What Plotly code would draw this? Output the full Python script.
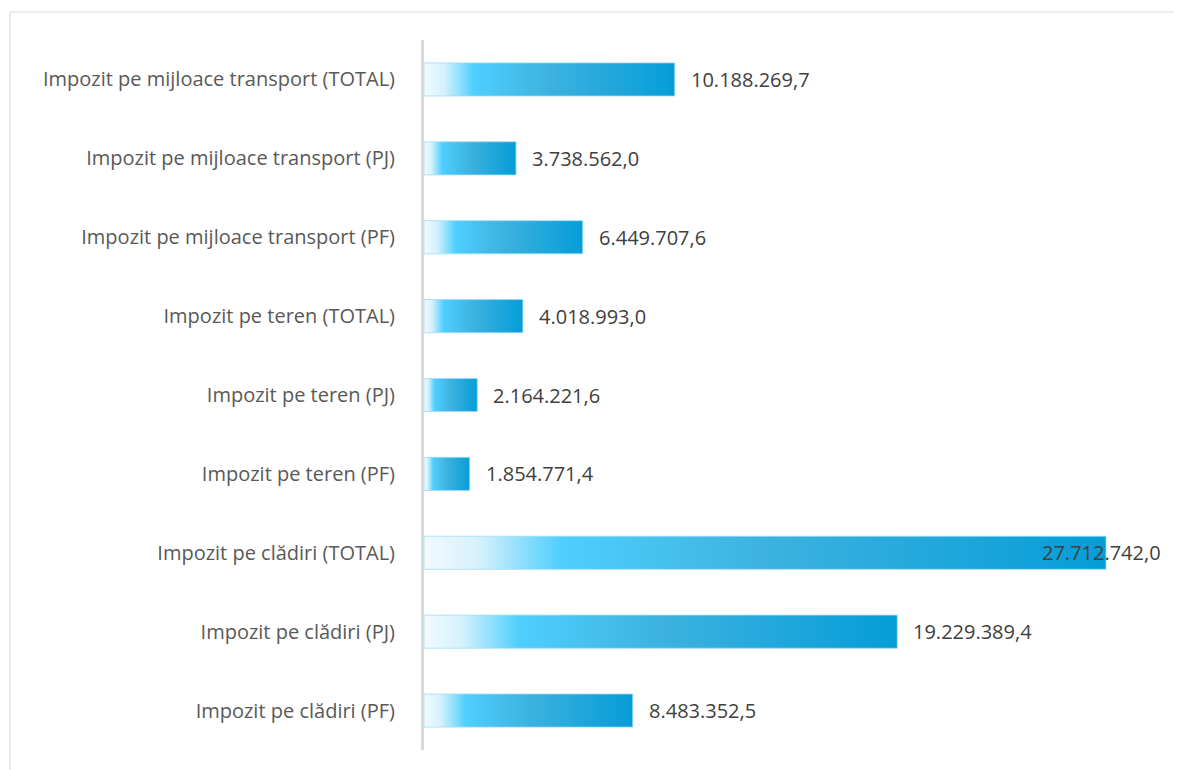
import plotly.graph_objects as go

categories = [
    "Impozit pe clădiri (PF)",
    "Impozit pe clădiri (PJ)",
    "Impozit pe clădiri (TOTAL)",
    "Impozit pe teren (PF)",
    "Impozit pe teren (PJ)",
    "Impozit pe teren (TOTAL)",
    "Impozit pe mijloace transport (PF)",
    "Impozit pe mijloace transport (PJ)",
    "Impozit pe mijloace transport (TOTAL)",
]
values = [
    8483352.5,
    19229389.4,
    27712742.0,
    1854771.4,
    2164221.6,
    4018993.0,
    6449707.6,
    3738562.0,
    10188269.7,
]

def fmt_ro(v):
    s = f"{v:,.1f}"
    return s.replace(",", "X").replace(".", ",").replace("X", ".")

labels = [fmt_ro(v) for v in values]

half_h = 0.21
grad = [[0.0, "#f2faff"], [0.08, "#d6f1fc"], [0.2, "#4fcffe"],
        [0.5, "#3db2e0"], [1.0, "#059dd7"]]

FONT = "'Open Sans', 'Noto Sans', sans-serif"

fig = go.Figure()
for i, v in enumerate(values):
    fig.add_trace(go.Scatter(
        x=[0, v, v, 0, 0],
        y=[i - half_h, i - half_h, i + half_h, i + half_h, i - half_h],
        mode="lines",
        line=dict(color="rgba(160,220,245,0.8)", width=1),
        fill="toself",
        fillgradient=dict(type="horizontal", colorscale=grad),
        hoverinfo="skip",
        showlegend=False,
    ))

vmax = max(values)
for i, (v, t) in enumerate(zip(values, labels)):
    overflow = v == vmax
    fig.add_annotation(
        x=v, y=i, text=t, showarrow=False,
        xanchor="left", yanchor="middle",
        xshift=-66 if overflow else 14,
        font=dict(family=FONT, size=20, color="#404040"),
    )

W, H = 1174, 762
L, R, T, B = 416, 32, 32, 20
pw = W - L - R
ph = H - T - B

fig.update_layout(
    width=W, height=H,
    margin=dict(l=L, r=R, t=T, b=B),
    paper_bgcolor="white",
    plot_bgcolor="white",
    showlegend=False,
    xaxis=dict(range=[0, 29.5e6], showgrid=False, zeroline=False,
               showticklabels=False, showline=False, fixedrange=True),
    yaxis=dict(range=[-0.5, 8.5], tickmode="array",
               tickvals=list(range(len(categories))), ticktext=categories,
               showgrid=False, zeroline=False, showline=True,
               linecolor="#d9d9d9", linewidth=3, ticks="",
               ticklabelstandoff=22,
               tickfont=dict(family=FONT, size=20, color="#595959")),
    shapes=[dict(type="rect", xref="paper", yref="paper",
                 x0=(2 - L) / pw, x1=1.2, y0=-0.2, y1=(H - B - 4) / ph,
                 line=dict(color="#d9d9d9", width=1), fillcolor="rgba(0,0,0,0)",
                 layer="below")],
)

fig.write_html("out.html")
